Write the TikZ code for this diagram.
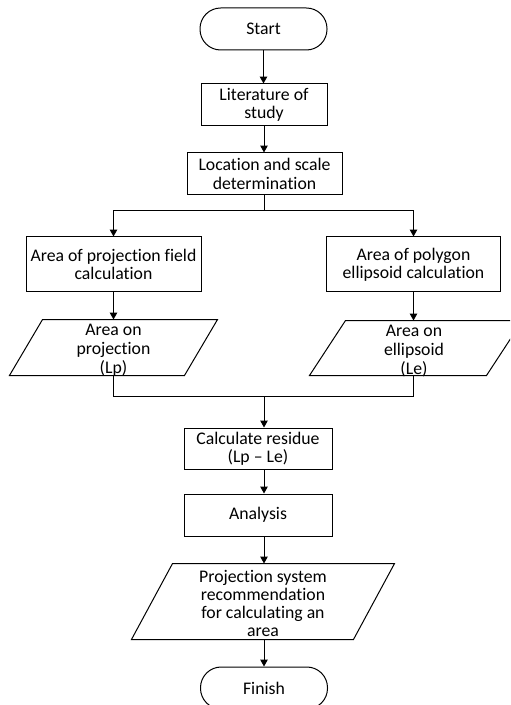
\documentclass[tikz,border=0pt]{standalone}
\usepackage{fontspec}
\setmainfont{Carlito}[Ligatures={NoCommon}]
\usetikzlibrary{arrows.meta}
\begin{document}
\begin{tikzpicture}[x=0.75pt,y=-0.75pt,
  every node/.style={font=\fontsize{13.3}{13.75}\selectfont,align=center,inner sep=0pt},
  box/.style={draw,line width=0.75pt,minimum width=#1},
  term/.style={draw,line width=0.75pt,rounded corners=15.5pt,minimum width=95.25pt,minimum height=31.5pt},
  para/.style={minimum width=#1},
  arr/.style={-{Triangle[length=5.2pt,width=5.6pt]}},
  line width=0.75pt]
\useasboundingbox (0,0) rectangle (510,705);
\clip (0,0) rectangle (510,705);
% nodes
\node[term] (start) at (263.5,29) {Start};
\node[box=94.5pt,minimum height=31.5pt] (lit) at (264,105) {Literature of\\study};
\node[box=116.25pt,minimum height=31.5pt] (loc) at (264.5,174) {Location and scale\\determination};
\node[box=131.25pt,minimum height=41.25pt] (A) at (113.5,264.5) {Area of projection field\\calculation};
\node[box=130.5pt,minimum height=41.25pt] (B) at (413.5,264.5) {Area of polygon\\ellipsoid calculation};
\node[para=130.5pt,minimum height=41.25pt] (PL) at (113.5,347.5) {};
\node[para=132pt,minimum height=40.5pt] (PR) at (416,348) {};
\node[box=111pt,minimum height=30.75pt] (calc) at (258,448.5) {Calculate residue\\(Lp – Le)};
\node[box=111pt,minimum height=31.5pt] (analysis) at (258,515) {Analysis};
\node[para=165.75pt,minimum height=56.25pt] (PF) at (263,601.5) {};
\node[term] (finish) at (264,688) {Finish};
% parallelogram texts
\node[font=\fontsize{13.3}{14.1}\selectfont] (PLt) at (113.5,350.5) {Area on\\projection\\(Lp)};
\node[font=\fontsize{13.3}{14.1}\selectfont] (PRt) at (414,351) {Area on\\ellipsoid\\(Le)};
\node[font=\fontsize{13.3}{13.3}\selectfont] (PFt) at (263,603.5) {Projection system\\recommendation\\for calculating an\\area};
% parallelogram outlines
\draw ([xshift=12.4pt]PL.north west) -- ([xshift=12.4pt]PL.north east) -- ([xshift=-12.4pt]PL.south east) -- ([xshift=-12.4pt]PL.south west) -- cycle;
\draw ([xshift=13.5pt]PR.north west) -- ([xshift=13.5pt]PR.north east) -- ([xshift=-13.5pt]PR.south east) -- ([xshift=-13.5pt]PR.south west) -- cycle;
\draw ([xshift=15.4pt]PF.north west) -- ([xshift=15.4pt]PF.north east) -- ([xshift=-15.4pt]PF.south east) -- ([xshift=-15.4pt]PF.south west) -- cycle;
% connectors
\coordinate (split) at (264,211);
\coordinate (merge) at (264,396);
\draw[arr] (start) -- (start |- lit.north);
\draw[arr] (lit) -- (lit |- loc.north);
\draw (loc.south -| split) -- (split);
\draw[arr] (split) -| (A.north);
\draw[arr] (split) -| (B.north);
\draw[arr] (A) -- (A |- PL.north);
\draw[arr] (B) -- (B |- PR.north);
\draw (PL.south) |- (merge);
\draw (B |- PR.south) |- (merge);
\draw[arr] (merge) -- (merge |- calc.north);
\draw[arr] (calc.south -| merge) -- (merge |- analysis.north);
\draw[arr] (analysis.south -| merge) -- (merge |- PF.north);
\draw[arr] (PF.south -| finish) -- (finish);
\end{tikzpicture}
\end{document}
